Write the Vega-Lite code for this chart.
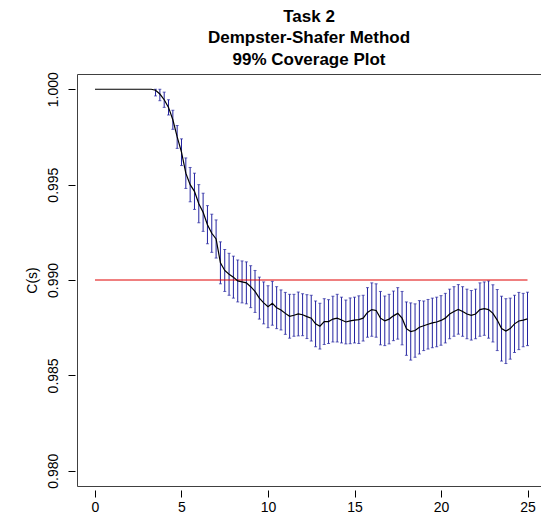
{
  "$schema": "https://vega.github.io/schema/vega-lite/v6.json",
  "autosize": "none",
  "padding": {"left": 77, "top": 74, "right": 0, "bottom": 35},
  "width": 464,
  "height": 412,
  "background": "white",
  "title": {
    "text": ["Task 2", "Dempster-Shafer Method", "99% Coverage Plot"],
    "font": "Liberation Sans",
    "fontSize": 17,
    "fontWeight": "bold",
    "color": "black",
    "lineHeight": 21.5,
    "anchor": "middle",
    "baseline": "bottom",
    "offset": -14
  },
  "datasets": {
    "cov": [
      {"x": 0, "m": 1.0}, {"x": 0.25, "m": 1.0}, {"x": 0.5, "m": 1.0}, {"x": 0.75, "m": 1.0},
      {"x": 1.0, "m": 1.0}, {"x": 1.25, "m": 1.0}, {"x": 1.5, "m": 1.0}, {"x": 1.75, "m": 1.0},
      {"x": 2.0, "m": 1.0}, {"x": 2.25, "m": 1.0}, {"x": 2.5, "m": 1.0}, {"x": 2.75, "m": 1.0},
      {"x": 3.0, "m": 1.0}, {"x": 3.25, "m": 1.0},
      {"x": 3.5, "m": 0.99995, "lo": 0.99965, "hi": 1.0},
      {"x": 3.75, "m": 0.99975, "lo": 0.9994, "hi": 1.0},
      {"x": 4.0, "m": 0.99945, "lo": 0.99905, "hi": 0.99985},
      {"x": 4.25, "m": 0.99905, "lo": 0.99865, "hi": 0.99945},
      {"x": 4.5, "m": 0.9984, "lo": 0.9979, "hi": 0.9989},
      {"x": 4.75, "m": 0.9975, "lo": 0.9969, "hi": 0.9981},
      {"x": 5.0, "m": 0.9967, "lo": 0.996, "hi": 0.9974},
      {"x": 5.25, "m": 0.9956, "lo": 0.9948, "hi": 0.9964},
      {"x": 5.5, "m": 0.995, "lo": 0.9941, "hi": 0.9959},
      {"x": 5.75, "m": 0.99465, "lo": 0.9937, "hi": 0.9956},
      {"x": 6.0, "m": 0.994, "lo": 0.993, "hi": 0.995},
      {"x": 6.25, "m": 0.99355, "lo": 0.99255, "hi": 0.99455},
      {"x": 6.5, "m": 0.9929, "lo": 0.9919, "hi": 0.9939},
      {"x": 6.75, "m": 0.99245, "lo": 0.99145, "hi": 0.99345},
      {"x": 7.0, "m": 0.99215, "lo": 0.99115, "hi": 0.99315},
      {"x": 7.25, "m": 0.9909, "lo": 0.9898, "hi": 0.992},
      {"x": 7.5, "m": 0.9905, "lo": 0.9894, "hi": 0.9916},
      {"x": 7.75, "m": 0.9903, "lo": 0.9892, "hi": 0.9914},
      {"x": 8.0, "m": 0.99015, "lo": 0.98905, "hi": 0.99125},
      {"x": 8.25, "m": 0.98995, "lo": 0.98885, "hi": 0.99105},
      {"x": 8.5, "m": 0.9899, "lo": 0.9888, "hi": 0.991},
      {"x": 8.75, "m": 0.98985, "lo": 0.98875, "hi": 0.99095},
      {"x": 9.0, "m": 0.98965, "lo": 0.98855, "hi": 0.99075},
      {"x": 9.25, "m": 0.9894, "lo": 0.9883, "hi": 0.9905},
      {"x": 9.5, "m": 0.98905, "lo": 0.98795, "hi": 0.99015},
      {"x": 9.75, "m": 0.9888, "lo": 0.9877, "hi": 0.9899},
      {"x": 10.0, "m": 0.9886, "lo": 0.9875, "hi": 0.9897},
      {"x": 10.25, "m": 0.98878, "lo": 0.98763, "hi": 0.98993},
      {"x": 10.5, "m": 0.98855, "lo": 0.98745, "hi": 0.98965},
      {"x": 10.75, "m": 0.98843, "lo": 0.98738, "hi": 0.98948},
      {"x": 11.0, "m": 0.98825, "lo": 0.98715, "hi": 0.98935},
      {"x": 11.25, "m": 0.9881, "lo": 0.98695, "hi": 0.98925},
      {"x": 11.5, "m": 0.98815, "lo": 0.98705, "hi": 0.98925},
      {"x": 11.75, "m": 0.98822, "lo": 0.98707, "hi": 0.98937},
      {"x": 12.0, "m": 0.98818, "lo": 0.98708, "hi": 0.98928},
      {"x": 12.25, "m": 0.98808, "lo": 0.98693, "hi": 0.98923},
      {"x": 12.5, "m": 0.988, "lo": 0.9868, "hi": 0.9892},
      {"x": 12.75, "m": 0.9877, "lo": 0.9865, "hi": 0.9889},
      {"x": 13.0, "m": 0.98758, "lo": 0.98638, "hi": 0.98878},
      {"x": 13.25, "m": 0.98782, "lo": 0.98662, "hi": 0.98902},
      {"x": 13.5, "m": 0.98782, "lo": 0.98667, "hi": 0.98897},
      {"x": 13.75, "m": 0.98795, "lo": 0.98675, "hi": 0.98915},
      {"x": 14.0, "m": 0.988, "lo": 0.98675, "hi": 0.98925},
      {"x": 14.25, "m": 0.9879, "lo": 0.9867, "hi": 0.9891},
      {"x": 14.5, "m": 0.9878, "lo": 0.98665, "hi": 0.98895},
      {"x": 14.75, "m": 0.98786, "lo": 0.98666, "hi": 0.98906},
      {"x": 15.0, "m": 0.9879, "lo": 0.9867, "hi": 0.9891},
      {"x": 15.25, "m": 0.98792, "lo": 0.98667, "hi": 0.98917},
      {"x": 15.5, "m": 0.988, "lo": 0.9868, "hi": 0.9892},
      {"x": 15.75, "m": 0.9883, "lo": 0.987, "hi": 0.9896},
      {"x": 16.0, "m": 0.98845, "lo": 0.98705, "hi": 0.98985},
      {"x": 16.25, "m": 0.9884, "lo": 0.987, "hi": 0.9898},
      {"x": 16.5, "m": 0.988, "lo": 0.9866, "hi": 0.9894},
      {"x": 16.75, "m": 0.98786, "lo": 0.98656, "hi": 0.98916},
      {"x": 17.0, "m": 0.98795, "lo": 0.98665, "hi": 0.98925},
      {"x": 17.25, "m": 0.98812, "lo": 0.98682, "hi": 0.98942},
      {"x": 17.5, "m": 0.98825, "lo": 0.9869, "hi": 0.9896},
      {"x": 17.75, "m": 0.988, "lo": 0.9866, "hi": 0.9894},
      {"x": 18.0, "m": 0.98745, "lo": 0.98605, "hi": 0.98885},
      {"x": 18.25, "m": 0.9873, "lo": 0.9858, "hi": 0.9888},
      {"x": 18.5, "m": 0.98735, "lo": 0.98595, "hi": 0.98875},
      {"x": 18.75, "m": 0.98752, "lo": 0.98612, "hi": 0.98892},
      {"x": 19.0, "m": 0.9876, "lo": 0.9863, "hi": 0.9889},
      {"x": 19.25, "m": 0.98768, "lo": 0.98638, "hi": 0.98898},
      {"x": 19.5, "m": 0.98775, "lo": 0.98645, "hi": 0.98905},
      {"x": 19.75, "m": 0.9878, "lo": 0.9865, "hi": 0.9891},
      {"x": 20.0, "m": 0.98788, "lo": 0.98658, "hi": 0.98918},
      {"x": 20.25, "m": 0.988, "lo": 0.9867, "hi": 0.9893},
      {"x": 20.5, "m": 0.98822, "lo": 0.98692, "hi": 0.98952},
      {"x": 20.75, "m": 0.98835, "lo": 0.98705, "hi": 0.98965},
      {"x": 21.0, "m": 0.98846, "lo": 0.98716, "hi": 0.98976},
      {"x": 21.25, "m": 0.98835, "lo": 0.98705, "hi": 0.98965},
      {"x": 21.5, "m": 0.98822, "lo": 0.98692, "hi": 0.98952},
      {"x": 21.75, "m": 0.98815, "lo": 0.98685, "hi": 0.98945},
      {"x": 22.0, "m": 0.98822, "lo": 0.98692, "hi": 0.98952},
      {"x": 22.25, "m": 0.98845, "lo": 0.98705, "hi": 0.98985},
      {"x": 22.5, "m": 0.9885, "lo": 0.9871, "hi": 0.9899},
      {"x": 22.75, "m": 0.98845, "lo": 0.98695, "hi": 0.98995},
      {"x": 23.0, "m": 0.98825, "lo": 0.98675, "hi": 0.98975},
      {"x": 23.25, "m": 0.9879, "lo": 0.9863, "hi": 0.9895},
      {"x": 23.5, "m": 0.98745, "lo": 0.98575, "hi": 0.98915},
      {"x": 23.75, "m": 0.98732, "lo": 0.98562, "hi": 0.98902},
      {"x": 24.0, "m": 0.98745, "lo": 0.98585, "hi": 0.98905},
      {"x": 24.25, "m": 0.9877, "lo": 0.9862, "hi": 0.9892},
      {"x": 24.5, "m": 0.98785, "lo": 0.98635, "hi": 0.98935},
      {"x": 24.75, "m": 0.9879, "lo": 0.9865, "hi": 0.9893},
      {"x": 25.0, "m": 0.98796, "lo": 0.98656, "hi": 0.98936}
    ],
    "target": [{"x": 0, "x2": 25, "y": 0.99}]
  },
  "config": {
    "view": {"stroke": "#404040", "strokeWidth": 1},
    "font": "Liberation Sans",
    "axis": {
      "grid": false,
      "domain": false,
      "tickColor": "black",
      "tickWidth": 1,
      "tickSize": 7,
      "labelFont": "Liberation Sans",
      "labelFontSize": 14,
      "labelColor": "black",
      "titleFont": "Liberation Sans",
      "titleFontSize": 14,
      "titleFontWeight": "normal",
      "titleColor": "black"
    }
  },
  "layer": [
    {
      "data": {"name": "cov"},
      "transform": [{"filter": "isValid(datum.lo)"}],
      "mark": {"type": "rule", "color": "#2323a0", "strokeWidth": 1},
      "encoding": {
        "x": {
          "field": "x", "type": "quantitative",
          "scale": {"domain": [-1.04, 25.78], "nice": false, "zero": false},
          "axis": {"values": [0, 5, 10, 15, 20, 25], "offset": 4, "labelPadding": 3, "title": null}
        },
        "y": {
          "field": "lo", "type": "quantitative",
          "scale": {"domain": [0.9792, 1.0008], "nice": false, "zero": false},
          "axis": {
            "values": [0.98, 0.985, 0.99, 0.995, 1.0],
            "format": ".3f",
            "offset": 2,
            "labelAngle": -90,
            "labelAlign": "center",
            "labelBaseline": "bottom",
            "labelPadding": 8,
            "title": "C(s)",
            "titleX": -43,
            "titleY": 206,
            "titleAngle": -90,
            "titleAlign": "center",
            "titleBaseline": "middle"
          }
        },
        "y2": {"field": "hi"}
      }
    },
    {
      "data": {"name": "cov"},
      "transform": [{"filter": "isValid(datum.lo)"}],
      "mark": {"type": "tick", "orient": "horizontal", "color": "#2323a0", "size": 3, "thickness": 1},
      "encoding": {
        "x": {"field": "x", "type": "quantitative"},
        "y": {"field": "lo", "type": "quantitative"}
      }
    },
    {
      "data": {"name": "cov"},
      "transform": [{"filter": "isValid(datum.lo)"}],
      "mark": {"type": "tick", "orient": "horizontal", "color": "#2323a0", "size": 3, "thickness": 1},
      "encoding": {
        "x": {"field": "x", "type": "quantitative"},
        "y": {"field": "hi", "type": "quantitative"}
      }
    },
    {
      "data": {"name": "target"},
      "mark": {"type": "rule", "color": "#e00000", "strokeWidth": 1},
      "encoding": {
        "x": {"field": "x", "type": "quantitative"},
        "x2": {"field": "x2"},
        "y": {"field": "y", "type": "quantitative"}
      }
    },
    {
      "data": {"name": "cov"},
      "mark": {"type": "line", "color": "black", "strokeWidth": 1.2},
      "encoding": {
        "x": {"field": "x", "type": "quantitative"},
        "y": {"field": "m", "type": "quantitative"}
      }
    }
  ]
}
